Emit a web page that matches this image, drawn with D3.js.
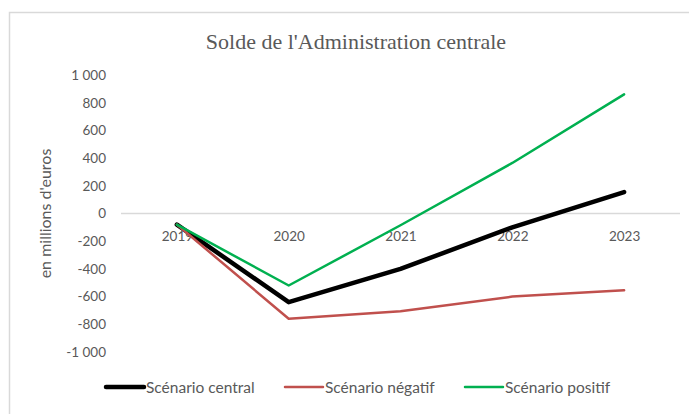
<!DOCTYPE html>
<html>
<head>
<meta charset="utf-8">
<script src="https://cdn.jsdelivr.net/npm/d3@7"></script>
<style>
  body { margin: 0; background: #fff; }
  svg { display: block; }
</style>
</head>
<body>
<svg width="689" height="414"></svg>
<script>
const years = ["2019", "2020", "2021", "2022", "2023"];
const central = [-80, -640, -400, -100, 155];
const negatif = [-80, -760, -705, -600, -555];
const positif = [-80, -520, -85, 365, 860];
const yTicks = [1000, 800, 600, 400, 200, 0, -200, -400, -600, -800, -1000];

const series = [
  { name: "Scénario central", values: central, color: "#000000", width: 4.5 },
  { name: "Scénario négatif", values: negatif, color: "#C0504D", width: 2.5 },
  { name: "Scénario positif", values: positif, color: "#00B050", width: 2.5 },
];

const svg = d3.select("svg");
const textColor = "#595959";
const tickFont = "Lato, 'Open Sans', sans-serif";

// chart frame (only top and left edges are visible)
svg.append("rect")
  .attr("x", 9.5).attr("y", 12.5)
  .attr("width", 720).attr("height", 430)
  .attr("fill", "#fff")
  .attr("stroke", "#D9D9D9")
  .attr("stroke-width", 1.5);

svg.append("text")
  .attr("x", 356).attr("y", 49)
  .attr("text-anchor", "middle")
  .attr("font-family", "'Liberation Serif', 'Times New Roman', serif")
  .attr("font-size", 22)
  .attr("fill", textColor)
  .text("Solde de l'Administration centrale");

const x = d3.scalePoint()
  .domain(years)
  .range([121, 680])
  .padding(0.5);

const y = d3.scaleLinear()
  .domain([-1000, 1000])
  .range([352, 75]);

const fmt = d3.formatLocale({ decimal: ",", thousands: "\u202F", grouping: [3], currency: ["", " €"], minus: "-" }).format(",d");

// zero line
svg.append("line")
  .attr("x1", 121).attr("x2", 680)
  .attr("y1", y(0)).attr("y2", y(0))
  .attr("stroke", "#D9D9D9")
  .attr("stroke-width", 1.5);

// y axis labels
const yAxis = svg.append("g")
  .attr("transform", "translate(106,0)")
  .call(d3.axisLeft(y).tickValues(yTicks).tickFormat(fmt).tickSize(0).tickPadding(0));
yAxis.select(".domain").remove();
yAxis.selectAll("text")
  .attr("font-family", tickFont)
  .attr("font-size", 13.5)
  .attr("fill", textColor);

// x axis labels, hanging below the zero line
const xAxis = svg.append("g")
  .attr("transform", `translate(0,${y(0)})`)
  .call(d3.axisBottom(x).tickSize(0).tickPadding(18));
xAxis.select(".domain").remove();
xAxis.selectAll("text")
  .attr("font-family", tickFont)
  .attr("font-size", 13.5)
  .attr("fill", textColor);

svg.append("text")
  .attr("transform", `translate(51,${y(0)}) rotate(-90)`)
  .attr("text-anchor", "middle")
  .attr("font-family", tickFont)
  .attr("font-size", 16)
  .attr("fill", textColor)
  .text("en millions d'euros");

const line = d3.line()
  .x((d, i) => x(years[i]))
  .y((d) => y(d));

svg.selectAll(".serie")
  .data(series)
  .enter()
  .append("path")
  .attr("class", "serie")
  .attr("d", (d) => line(d.values))
  .attr("fill", "none")
  .attr("stroke", (d) => d.color)
  .attr("stroke-width", (d) => d.width)
  .attr("stroke-linejoin", "round")
  .attr("stroke-linecap", "round");

// legend
const legendX = [106, 285, 465];
const legend = svg.selectAll(".legend")
  .data(series)
  .enter()
  .append("g")
  .attr("class", "legend")
  .attr("transform", (d, i) => `translate(${legendX[i]},387)`);

legend.append("line")
  .attr("x1", 0).attr("x2", 38)
  .attr("stroke", (d) => d.color)
  .attr("stroke-width", (d) => d.width)
  .attr("stroke-linecap", "round");

legend.append("text")
  .attr("x", 40).attr("y", 5.5)
  .attr("font-family", tickFont)
  .attr("font-size", 15.5)
  .attr("fill", textColor)
  .text((d) => d.name);
</script>
</body>
</html>
